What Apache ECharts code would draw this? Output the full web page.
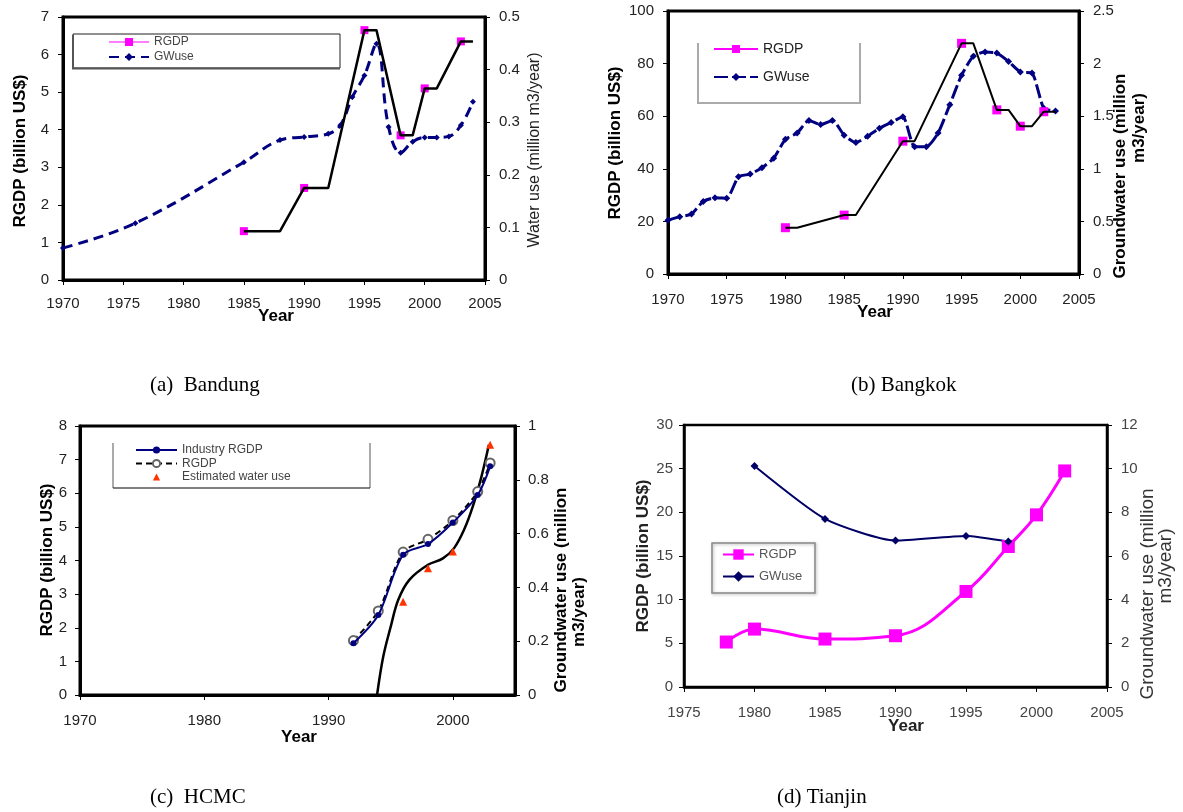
<!DOCTYPE html>
<html><head><meta charset="utf-8">
<script src="https://cdn.jsdelivr.net/npm/echarts@6/dist/echarts.min.js"></script>
<style>html,body{margin:0;padding:0;background:#fff}#c{width:1183px;height:812px}</style>
</head><body><div id="c"></div>
<script>
// ---------- (a) Bandung ----------
const aRgdpYears = [1985, 1990, 1995, 1998, 2000, 2003];
const aRgdp = [1.3, 2.45, 6.65, 3.85, 5.1, 6.35];
const aLineYears = [1985, 1988, 1990, 1992, 1995, 1996, 1998, 1999, 2000, 2001, 2003, 2004];
const aLine = [1.3, 1.3, 2.45, 2.45, 6.65, 6.65, 3.85, 3.85, 5.1, 5.1, 6.35, 6.35];
const aGwYears = [1970, 1976, 1985, 1988, 1990, 1992, 1993, 1994, 1995, 1996, 1997, 1998, 1999, 2000, 2001, 2002, 2003, 2004];
const aGw = [0.061, 0.108, 0.224, 0.266, 0.272, 0.278, 0.294, 0.348, 0.389, 0.449, 0.291, 0.242, 0.263, 0.271, 0.271, 0.273, 0.294, 0.339];

// ---------- (b) Bangkok ----------
const bRgdpYears = [1980, 1985, 1990, 1995, 1998, 2000, 2002];
const bRgdp = [17.6, 22.4, 50.5, 87.7, 62.4, 56.2, 61.7];
const bLineYears = [1980, 1981, 1985, 1986, 1990, 1991, 1995, 1996, 1998, 1999, 2000, 2001, 2002, 2003];
const bLine = [17.6, 17.6, 22.4, 22.4, 50.5, 50.5, 87.7, 87.7, 62.4, 62.4, 56.2, 56.2, 61.7, 61.7];
const bGwYears = [1970, 1971, 1972, 1973, 1974, 1975, 1976, 1977, 1978, 1979, 1980, 1981, 1982, 1983, 1984, 1985, 1986, 1987, 1988, 1989, 1990, 1991, 1992, 1993, 1994, 1995, 1996, 1997, 1998, 1999, 2000, 2001, 2002, 2003];
const bGw = [0.51, 0.545, 0.57, 0.69, 0.725, 0.72, 0.925, 0.95, 1.01, 1.1, 1.28, 1.34, 1.46, 1.42, 1.46, 1.32, 1.25, 1.31, 1.385, 1.44, 1.495, 1.21, 1.21, 1.34, 1.61, 1.89, 2.07, 2.11, 2.10, 2.02, 1.92, 1.91, 1.575, 1.55];

// ---------- (c) HCMC ----------
const cYears = [1992, 1994, 1996, 1998, 2000, 2002, 2003];
const cIndustry = [1.54, 2.38, 4.17, 4.49, 5.13, 5.95, 6.80];
const cRgdp = [1.62, 2.50, 4.25, 4.63, 5.19, 6.05, 6.90];
const cWaterYears = [1996, 1998, 2000, 2003];
const cWater = [0.347, 0.471, 0.533, 0.93];
const cFitYears = [1993.9, 1994.4, 1995, 1995.6, 1996.5, 1998, 1999.2, 2000.1, 2000.9, 2001.6, 2002.3, 2002.9];
const cFit = [0, 0.143, 0.254, 0.353, 0.428, 0.484, 0.508, 0.546, 0.614, 0.70, 0.812, 0.93];

// ---------- (d) Tianjin ----------
const dRgdpYears = [1978, 1980, 1985, 1990, 1995, 1998, 2000, 2002];
const dRgdp = [5.15, 6.63, 5.49, 5.87, 10.94, 16.09, 19.71, 24.74];
const dGwYears = [1980, 1985, 1990, 1995, 1998];
const dGw = [10.12, 7.70, 6.71, 6.92, 6.66];

const captions = ['(a)  Bandung', '(b) Bangkok', '(c)  HCMC', '(d) Tianjin'];
const yTitle = 'RGDP (billion US$)';

const zip = (xs, ys) => xs.map((x, i) => [x, ys[i]]);
const SANS = '"Liberation Sans", Arial, sans-serif';
const SERIF = '"Liberation Serif", "Times New Roman", serif';

function axLabel(color, margin, extra) {
  return Object.assign({ fontFamily: SANS, fontSize: 15, color: color, margin: margin, formatter: v => String(v) }, extra || {});
}
function baseAxis(o) {
  return Object.assign({
    type: 'value',
    splitLine: { show: false },
    axisLine: { show: true, onZero: false, lineStyle: { color: '#000', width: 3 } },
    axisTick: { show: true, inside: false, length: 5, lineStyle: { color: '#000', width: 1 } }
  }, o);
}

const xAxes = [
  baseAxis({ gridIndex: 0, min: 1970, max: 2005, interval: 5, axisLabel: axLabel('#222', 16) }),
  baseAxis({ gridIndex: 1, min: 1970, max: 2005, interval: 5, axisLabel: axLabel('#222', 18) }),
  baseAxis({ gridIndex: 2, min: 1970, max: 2005, interval: 10, axisLabel: axLabel('#222', 18, { showMaxLabel: false, formatter: v => (v % 10 === 0 ? String(v) : '') }) }),
  baseAxis({ gridIndex: 3, min: 1975, max: 2005, interval: 5, axisLine: { show: true, onZero: false, lineStyle: { color: '#000', width: 2.5 } }, axisLabel: axLabel('#444', 18) })
];
const yAxes = [
  baseAxis({ gridIndex: 0, position: 'left', min: 0, max: 7, interval: 1, axisLabel: axLabel('#222', 14) }),
  baseAxis({ gridIndex: 0, position: 'right', min: 0, max: 0.5, interval: 0.1, axisLabel: axLabel('#222', 14) }),
  baseAxis({ gridIndex: 1, position: 'left', min: 0, max: 100, interval: 20, axisLabel: axLabel('#222', 14) }),
  baseAxis({ gridIndex: 1, position: 'right', min: 0, max: 2.5, interval: 0.5, axisLabel: axLabel('#222', 14) }),
  baseAxis({ gridIndex: 2, position: 'left', min: 0, max: 8, interval: 1, axisLabel: axLabel('#222', 13) }),
  baseAxis({ gridIndex: 2, position: 'right', min: 0, max: 1, interval: 0.2, axisLabel: axLabel('#222', 13) }),
  baseAxis({ gridIndex: 3, position: 'left', min: 0, max: 30, interval: 5, axisLine: { show: true, onZero: false, lineStyle: { color: '#000', width: 2.5 } }, axisLabel: axLabel('#444', 11) }),
  baseAxis({ gridIndex: 3, position: 'right', min: 0, max: 12, interval: 2, axisLine: { show: true, onZero: false, lineStyle: { color: '#000', width: 2.5 } }, axisLabel: axLabel('#444', 14) })
];

const NAVY = '#000080';
const MAG = '#ff00ff';

const series = [
  // (a)
  { name: 'RGDP|a', type: 'line', xAxisIndex: 0, yAxisIndex: 0, data: zip(aRgdpYears, aRgdp),
    symbol: 'rect', symbolSize: 8, itemStyle: { color: MAG }, lineStyle: { color: MAG, width: 1, opacity: 0 }, z: 3 },
  { name: 'lineA', type: 'line', xAxisIndex: 0, yAxisIndex: 0, data: zip(aLineYears, aLine),
    symbol: 'none', lineStyle: { color: '#000', width: 2.5 }, z: 4 },
  { name: 'GWuse|a', type: 'line', xAxisIndex: 0, yAxisIndex: 1, data: zip(aGwYears, aGw), smooth: 0.4,
    symbol: 'diamond', symbolSize: 6, itemStyle: { color: NAVY }, lineStyle: { color: NAVY, width: 3, type: [10, 6] }, z: 2 },
  // (b)
  { name: 'RGDP|b', type: 'line', xAxisIndex: 1, yAxisIndex: 2, data: zip(bRgdpYears, bRgdp),
    symbol: 'rect', symbolSize: 9, itemStyle: { color: MAG }, lineStyle: { color: MAG, width: 1, opacity: 0 }, z: 3 },
  { name: 'lineB', type: 'line', xAxisIndex: 1, yAxisIndex: 2, data: zip(bLineYears, bLine),
    symbol: 'none', lineStyle: { color: '#000', width: 2 }, z: 4 },
  { name: 'GWuse|b', type: 'line', xAxisIndex: 1, yAxisIndex: 3, data: zip(bGwYears, bGw), smooth: 0.2,
    symbol: 'diamond', symbolSize: 7, itemStyle: { color: NAVY }, lineStyle: { color: NAVY, width: 3, type: [14, 4] }, z: 2 },
  // (c)
  { name: 'RGDP|c', type: 'line', xAxisIndex: 2, yAxisIndex: 4, data: zip(cYears, cRgdp), smooth: 0.3,
    symbol: 'emptyCircle', symbolSize: 9, itemStyle: { color: '#666', borderColor: '#555', borderWidth: 1 },
    lineStyle: { color: '#000', width: 2, type: [6, 4] }, z: 3 },
  { name: 'Industry RGDP|c', type: 'line', xAxisIndex: 2, yAxisIndex: 4, data: zip(cYears, cIndustry), smooth: 0.3,
    symbol: 'circle', symbolSize: 6, itemStyle: { color: NAVY }, lineStyle: { color: NAVY, width: 2 }, z: 4 },
  { name: 'fitC', type: 'line', xAxisIndex: 2, yAxisIndex: 5, data: zip(cFitYears, cFit), smooth: 0.35,
    symbol: 'none', lineStyle: { color: '#000', width: 2.5 }, z: 2 },
  { name: 'Estimated water use|c', type: 'line', xAxisIndex: 2, yAxisIndex: 5, data: zip(cWaterYears, cWater),
    symbol: 'triangle', symbolSize: 8, itemStyle: { color: '#ff3300' }, lineStyle: { opacity: 0, width: 0 }, z: 5 },
  // (d)
  { name: 'RGDP|d', type: 'line', xAxisIndex: 3, yAxisIndex: 6, data: zip(dRgdpYears, dRgdp), smooth: 0.4,
    symbol: 'rect', symbolSize: 13, itemStyle: { color: MAG }, lineStyle: { color: MAG, width: 3 }, z: 3 },
  { name: 'GWuse|d', type: 'line', xAxisIndex: 3, yAxisIndex: 7, data: zip(dGwYears, dGw), smooth: 0.2,
    symbol: 'diamond', symbolSize: 8, itemStyle: { color: '#000066' }, lineStyle: { color: '#000066', width: 2 }, z: 3 }
];

const fmt = n => n.split('|')[0];
const legends = [
  { left: 108, top: 36, orient: 'vertical', padding: 0, itemWidth: 40, itemHeight: 10, itemGap: 3, formatter: fmt,
    textStyle: { fontFamily: SANS, fontSize: 12, color: '#444' }, selectedMode: false,
    data: [{ name: 'RGDP|a', lineStyle: { opacity: 1, width: 1, color: MAG } }, { name: 'GWuse|a' }] },
  { left: 713, top: 42, orient: 'vertical', padding: 0, itemWidth: 44, itemHeight: 10, itemGap: 14, formatter: fmt,
    textStyle: { fontFamily: SANS, fontSize: 14, color: '#222' }, selectedMode: false,
    data: [{ name: 'RGDP|b', lineStyle: { opacity: 1, width: 2, color: MAG } }, { name: 'GWuse|b' }] },
  { left: 135, top: 444, orient: 'vertical', padding: 0, itemWidth: 41, itemHeight: 9, itemGap: 1.5, formatter: fmt,
    textStyle: { fontFamily: SANS, fontSize: 12, color: '#444' }, selectedMode: false,
    data: [{ name: 'Industry RGDP|c' }, { name: 'RGDP|c' }, { name: 'Estimated water use|c' }] },
  { left: 722, top: 548, orient: 'vertical', padding: 0, itemWidth: 31, itemHeight: 13, itemGap: 9, formatter: fmt,
    textStyle: { fontFamily: SANS, fontSize: 13, color: '#555' }, selectedMode: false,
    data: [{ name: 'RGDP|d' }, { name: 'GWuse|d' }] }
];

function vText(x, y, text, font, color) {
  return { type: 'text', x: x, y: y, rotation: Math.PI / 2, z: 50,
    style: { text: text, x: 0, y: 0, font: font, fill: color || '#000', textAlign: 'center', textVerticalAlign: 'middle', align: 'center', verticalAlign: 'middle' } };
}
function hText(x, y, text, font, color, align) {
  return { type: 'text', x: x, y: y, z: 50,
    style: { text: text, x: 0, y: 0, font: font, fill: color || '#000', textAlign: align || 'center', textVerticalAlign: 'middle', align: align || 'center', verticalAlign: 'middle' } };
}
const BOLD17 = 'bold 17px ' + SANS;
const graphics = [
  // legend boxes
  { type: 'rect', z: 40, shape: { x: 73, y: 34, width: 267, height: 34 }, style: { fill: 'none', stroke: '#222', lineWidth: 1 } },
  { type: 'polyline', z: 40, shape: { points: [[73, 35], [73, 68.5], [340, 68.5]] }, style: { fill: 'none', stroke: '#555', lineWidth: 2 } },
  { type: 'polyline', z: 40, shape: { points: [[698, 43], [698, 103], [860, 103], [860, 43]] }, style: { fill: 'none', stroke: '#aaa', lineWidth: 2 } },
  { type: 'polyline', z: 40, shape: { points: [[113, 443], [113, 488]] }, style: { fill: 'none', stroke: '#aaa', lineWidth: 2 } },
  { type: 'polyline', z: 40, shape: { points: [[370, 443], [370, 488]] }, style: { fill: 'none', stroke: '#aaa', lineWidth: 2 } },
  { type: 'polyline', z: 40, shape: { points: [[113, 488], [370, 488]] }, style: { fill: 'none', stroke: '#000', lineWidth: 1 } },
  { type: 'rect', z: 40, shape: { x: 712, y: 543, width: 103, height: 50 }, style: { fill: 'none', stroke: '#888', lineWidth: 1.5, shadowBlur: 3, shadowColor: 'rgba(0,0,0,0.3)', shadowOffsetX: 1, shadowOffsetY: 1 } },
  // axis titles
  vText(20, 151, yTitle, BOLD17),
  vText(535, 150, 'Water use (million m3/year)', '16px ' + SANS, '#222'),
  vText(615, 143, yTitle, BOLD17),
  vText(1120, 176, 'Groundwater use (million', BOLD17),
  vText(1139, 128, 'm3/year)', BOLD17),
  vText(47, 560, yTitle, BOLD17),
  vText(561, 590, 'Groundwater use (million', BOLD17),
  vText(579, 612, 'm3/year)', BOLD17),
  vText(643, 556, yTitle, BOLD17, '#222'),
  vText(1148, 594, 'Groundwater use (million', '19px ' + SANS, '#333'),
  vText(1166, 566, 'm3/year)', '19px ' + SANS, '#333'),
  hText(276, 316, 'Year', BOLD17),
  hText(875, 312, 'Year', BOLD17),
  hText(299, 737, 'Year', BOLD17),
  hText(906, 726, 'Year', BOLD17, '#222'),
  // captions
  hText(150, 385, captions[0], '21px ' + SERIF, '#000', 'left'),
  hText(851, 385, captions[1], '21px ' + SERIF, '#000', 'left'),
  hText(150, 797, captions[2], '21px ' + SERIF, '#000', 'left'),
  hText(777, 797, captions[3], '21px ' + SERIF, '#000', 'left')
];

const gridBase = { show: true, borderColor: '#000', borderWidth: 3, backgroundColor: 'transparent', containLabel: false, outerBoundsMode: 'none' };
const option = {
  animation: false,
  backgroundColor: '#fff',
  grid: [
    Object.assign({ left: 63, top: 17, width: 422, height: 263 }, gridBase),
    Object.assign({ left: 668, top: 11, width: 411, height: 263 }, gridBase),
    Object.assign({ left: 80, top: 426, width: 435, height: 269 }, gridBase),
    Object.assign({ left: 684, top: 425, width: 423, height: 262 }, gridBase, { borderWidth: 2.5 })
  ],
  xAxis: xAxes,
  yAxis: yAxes,
  legend: legends,
  series: series,
  graphic: { elements: graphics }
};
const chart = echarts.init(document.getElementById('c'));
chart.setOption(option);
</script>
</body></html>
